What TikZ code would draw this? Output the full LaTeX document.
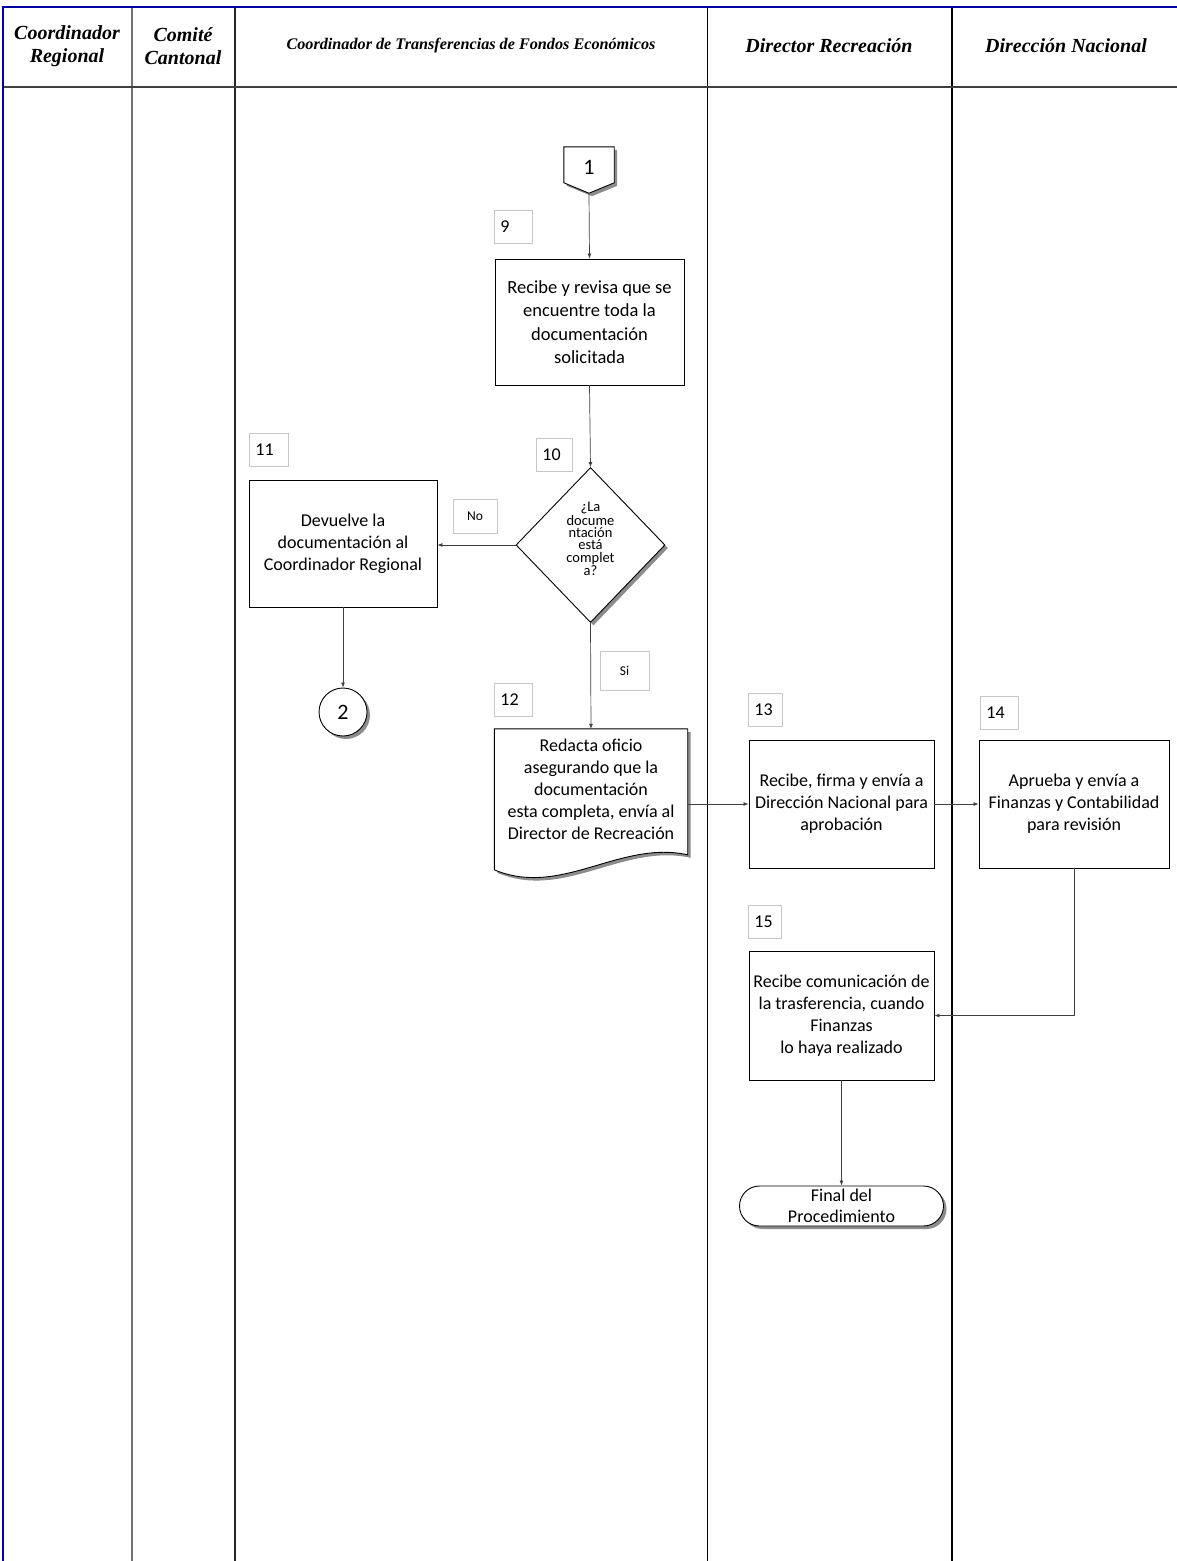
\documentclass[tikz,border=0pt]{standalone}
\usepackage{fontspec}
\setmainfont{Carlito}
\newfontfamily\hdrfont{Liberation Serif}
\usetikzlibrary{shapes.geometric,shapes.misc,shadows,arrows.meta,calc}
\begin{document}
\begin{tikzpicture}[x=1pt,y=-1pt,
  proc/.style={draw=black, line width=0.9pt, align=center, inner sep=1pt, fill=white,
    font=\fontsize{18}{22}\selectfont},
  num/.style={draw=black!22, line width=0.9pt, anchor=north west, text width=#1, align=left,
    inner xsep=6pt, inner ysep=0pt, minimum height=33pt, font=\fontsize{18}{21}\selectfont},
  lbl/.style={draw=black!22, line width=0.9pt, inner sep=0pt, font=\fontsize{13.5}{16}\selectfont},
  hdr/.style={align=center, font=\hdrfont\bfseries\itshape\fontsize{20}{23}\selectfont},
  shad/.style={drop shadow={shadow xshift=3pt, shadow yshift=-3pt, fill=black!45, opacity=1}},
  arr/.style={draw=black!75, line width=0.7pt, -{Latex[length=5pt,width=4pt]}},
  lane/.style={line width=#1},
]
\useasboundingbox (0,0) rectangle (1177,1561);
% lanes
\draw[lane=1.3pt, draw=black!55] (132,7) -- (132,1561);
\draw[lane=2pt, draw=black!85] (235,7) -- (235,1561);
\draw[lane=1pt, draw=black] (707,7) -- (707,1561);
\draw[lane=2pt, draw=black] (952,7) -- (952,1561);
\draw[lane=2pt, draw=black!75] (3,87) -- (1177,87);
\draw[lane=2.4pt, draw={rgb,255:red,0;green,0;blue,160}] (1177,7) -- (3,7) -- (3,1561);
% headers
\node[hdr] (h1) at (67,46) {Coordinador\\Regional};
\node[hdr] (h2) at (183,46) {Comité\\Cantonal};
\node[hdr, font=\hdrfont\bfseries\itshape\fontsize{16.2}{19}\selectfont] (h3) at (471,46) {Coordinador de Transferencias de Fondos Económicos};
\node[hdr] (h4) at (829,46) {Director Recreación};
\node[hdr] (h5) at (1066,46) {Dirección Nacional};

% off-page connector 1
\node[minimum width=50pt, minimum height=46pt, inner sep=0pt] (c1) at (589,170) {};
\fill[black!45] ($(c1.north west)+(3,3)$) -- ($(c1.north east)+(3,3)$) -- ($(c1.north east)+(3,39)$) -- ($(c1.south)+(3,3)$) -- ($(c1.north west)+(3,39)$) -- cycle;
\draw[line width=0.9pt, fill=white] (c1.north west) -- (c1.north east) -- ($(c1.north east)+(0,36)$) -- (c1.south) -- ($(c1.north west)+(0,36)$) -- cycle;
\node[font=\fontsize{22}{26}\selectfont] (c1t) at (589,167) {1};

\node[num=26pt] (n9) at (494,210) {9};
\node[proc, minimum width=189pt, minimum height=126pt, font=\fontsize{18.5}{23.5}\selectfont] (b1) at (589.5,322) {Recibe y revisa que se\\encuentre toda la\\documentación\\solicitada};

\node[num=24pt] (n10) at (536,438) {10};
\node[diamond, draw, line width=0.9pt, fill=white, shad, minimum width=149pt, minimum height=155pt, inner sep=0pt] (dia) at (590.5,545) {};
\node[align=center, inner sep=0pt, font=\fontsize{14.5}{12.2}\selectfont] (diat) at (590.5,539) {¿La\\docume\\ntación\\está\\complet\\a?};

\node[num=27pt] (n11) at (249,433) {11};
\node[proc, minimum width=188pt, minimum height=127pt] (b11) at (343,543.5) {Devuelve la\\documentación al\\Coordinador Regional};
\node[lbl, minimum width=44pt, minimum height=34pt] (no) at (475,516) {No};

\node[circle, draw, line width=0.9pt, fill=white, shad, minimum size=48pt, inner sep=0pt, font=\fontsize{22}{26}\selectfont] (c2) at (343,712) {2};

\node[lbl, minimum width=49pt, minimum height=39pt] (si) at (624.5,670.5) {Si};
\node[num=26pt] (n12) at (494,683) {12};

% document shape
\node[minimum width=193pt, minimum height=126pt, inner sep=0pt] (doc) at (591,792) {};
\fill[black!45] ($(doc.north west)+(3,3)$) -- ($(doc.north east)+(3,3)$) -- ($(doc.north east)+(3,129)$)
  .. controls ($(doc.north east)+(-65,114)$) and ($(doc.north west)+(70,172)$) .. ($(doc.north west)+(3,144)$) -- cycle;
\draw[line width=0.9pt, fill=white] (doc.north west) -- (doc.north east) -- ($(doc.north east)+(0,126)$)
  .. controls ($(doc.north east)+(-68,111)$) and ($(doc.north west)+(67,169)$) .. ($(doc.north west)+(0,141)$) -- cycle;
\node[align=center, font=\fontsize{18}{22}\selectfont] (doct) at (591,789) {Redacta oficio\\asegurando que la\\documentación\\esta completa, envía al\\Director de Recreación};

\node[num=22pt] (n13) at (748,693) {13};
\node[proc, minimum width=185pt, minimum height=128pt] (b13) at (841.5,804) {Recibe, firma y envía a\\Dirección Nacional para\\aprobación};
\node[num=26pt] (n14) at (980,696) {14};
\node[proc, minimum width=190pt, minimum height=128pt] (b14) at (1074,804) {Aprueba y envía a\\Finanzas y Contabilidad\\para revisión};
\node[num=21pt] (n15) at (748,905) {15};
\node[proc, minimum width=185pt, minimum height=129pt] (b15) at (841.5,1015.5) {Recibe comunicación de\\la trasferencia, cuando\\Finanzas\\lo haya realizado};

\node[rounded rectangle, draw, line width=0.9pt, fill=white, shad, minimum width=204pt, minimum height=40pt, inner sep=0pt, align=center, font=\fontsize{18}{21}\selectfont] (fin) at (841.5,1206) {Final del\\Procedimiento};

% connectors
\draw[arr] (c1.south) -- (b1.north);
\draw[arr] (b1.south) -- (dia.north);
\draw[arr] (dia.west) -- (dia.west -| b11.east);
\draw[arr] (b11.south) -- (c2.north);
\draw[arr] (dia.south) -- (doc.north);
\draw[arr] (doc.east |- b13.west) -- (b13.west);
\draw[arr] (b13.east) -- (b14.west);
\draw[arr] (b14.south) |- (b15.east);
\draw[arr] (b15.south) -- (fin.north);
\end{tikzpicture}
\end{document}
